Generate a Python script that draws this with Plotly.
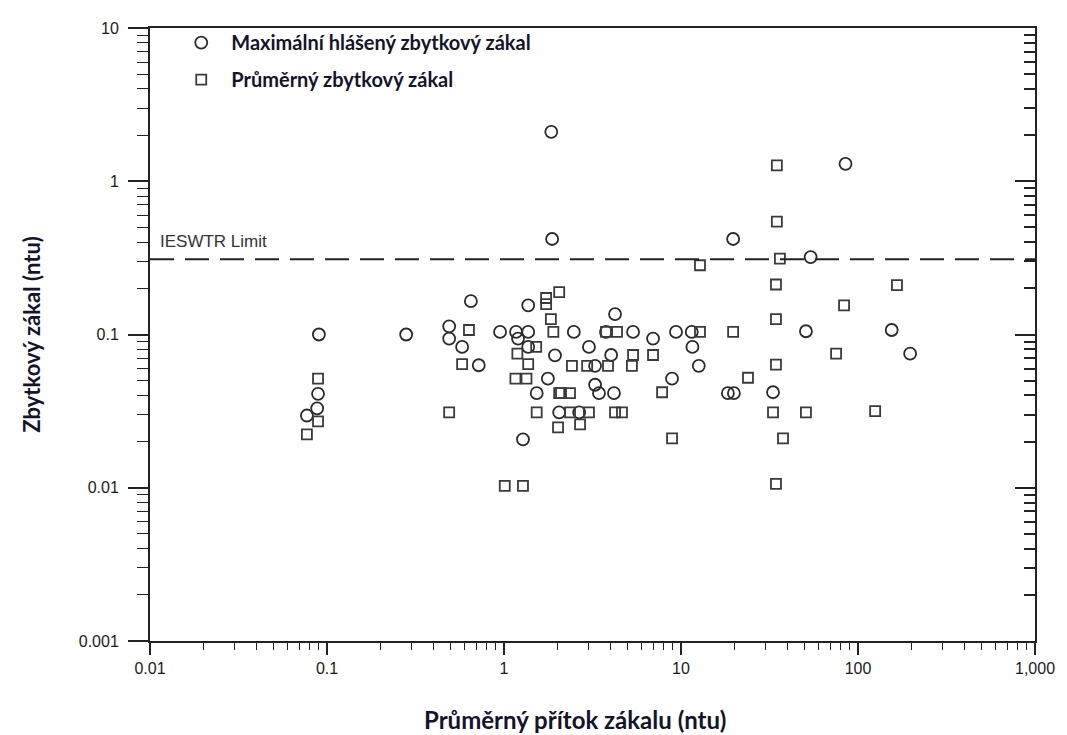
import math
import plotly.graph_objects as go

# Maximum reported residual turbidity (circles)
max_x = [1.85, 1.87, 85, 19.7, 54, 0.09, 0.28, 0.65, 0.49, 0.49, 0.58, 0.72, 0.089, 0.088,
         0.077, 0.95, 1.17, 1.37, 1.2, 1.37, 1.37, 1.94, 1.77, 1.53, 2.05, 1.28, 4.24, 2.48,
         3.77, 5.36, 6.95, 9.37, 11.5, 11.6, 12.6, 3.02, 4.03, 3.27, 8.9, 3.27, 3.44, 4.18,
         18.4, 19.9, 2.66, 33.1, 50.8, 155, 197]
max_y = [2.1, 0.42, 1.3, 0.42, 0.32, 0.1, 0.1, 0.165, 0.113, 0.094, 0.083, 0.063, 0.041, 0.033,
         0.0296, 0.104, 0.104, 0.104, 0.094, 0.083, 0.155, 0.073, 0.0515, 0.0414, 0.031, 0.0207,
         0.136, 0.104, 0.104, 0.104, 0.094, 0.104, 0.104, 0.083, 0.0625, 0.083, 0.0735, 0.0625,
         0.0515, 0.047, 0.0414, 0.0414, 0.0414, 0.0414, 0.031, 0.042, 0.105, 0.107, 0.075]

# Average residual turbidity (squares)
avg_x = [0.634, 0.58, 0.49, 0.089, 0.089, 0.077, 1.01, 1.28, 1.73, 1.73, 2.05, 1.84, 1.9, 1.52,
         1.19, 1.37, 1.16, 1.34, 1.53, 2.05, 2.02, 2.69, 3.77, 4.35, 2.42, 2.95, 3.87, 5.28, 5.36,
         6.95, 12.8, 19.7, 2.1, 2.36, 7.82, 2.36, 3.02, 4.24, 4.64, 8.9, 23.9, 34.4, 34.4, 34.4,
         33.1, 37.7, 34.4, 34.8, 34.8, 36.2, 12.8, 166, 83.4, 75.2, 50.8, 125]
avg_y = [0.107, 0.064, 0.031, 0.0515, 0.0271, 0.0223, 0.0103, 0.0103, 0.158, 0.173, 0.189, 0.126,
         0.104, 0.083, 0.075, 0.064, 0.0515, 0.0515, 0.031, 0.0414, 0.0248, 0.0259, 0.104, 0.104,
         0.0625, 0.0625, 0.0625, 0.0625, 0.0735, 0.0735, 0.104, 0.104, 0.0414, 0.0414, 0.042, 0.031,
         0.031, 0.031, 0.031, 0.021, 0.0522, 0.212, 0.126, 0.0635, 0.031, 0.021, 0.0106, 1.27,
         0.545, 0.313, 0.283, 0.21, 0.155, 0.075, 0.031, 0.0316]

limit_value = 0.31
limit_label = "IESWTR Limit"

x_tickvals = [0.01, 0.1, 1, 10, 100, 1000]
x_ticktext = ["0.01", "0.1", "1", "10", "100", "1,000"]
y_tickvals = [0.001, 0.01, 0.1, 1, 10]
y_ticktext = ["0.001", "0.01", "0.1", "1", "10"]

series_names = ["Maximální hlášený zbytkový zákal", "Průměrný zbytkový zákal"]
x_title = "Průměrný přítok zákalu (ntu)"
y_title = "Zbytkový zákal (ntu)"

minor_x = [m * 10 ** e for e in range(-2, 3) for m in range(2, 10)]
minor_y = [m * 10 ** e for e in range(-3, 1) for m in range(2, 10)]

ink = "#2a2a2a"
title_color = "#14142a"
title_font = "Lato"
tick_font = dict(family="Liberation Sans", size=16, color="#1a1a1a")

fig = go.Figure()
fig.add_trace(go.Scatter(
    x=max_x, y=max_y, mode="markers", name=series_names[0], legendgroup="a",
    marker=dict(symbol="circle-open", size=12, color=ink, line=dict(width=1.8, color=ink)),
))
fig.add_trace(go.Scatter(
    x=avg_x, y=avg_y, mode="markers", name=series_names[1], legendgroup="b",
    marker=dict(symbol="square-open", size=10, color="#3a3a3a", line=dict(width=1.8, color="#3a3a3a")),
))
# IESWTR limit line
fig.add_trace(go.Scatter(
    x=[0.01, 1000], y=[limit_value, limit_value], mode="lines", showlegend=False,
    line=dict(color="#222222", width=2, dash="24px,11px"), hoverinfo="skip",
))
# invisible trace to host the mirrored right axis
fig.add_trace(go.Scatter(x=[1], y=[1], yaxis="y2", mode="markers", showlegend=False,
                         marker=dict(opacity=0), hoverinfo="skip"))

fig.add_annotation(x=-2, y=math.log10(limit_value), xref="x", yref="y", text=limit_label,
                   showarrow=False, xanchor="left", yanchor="bottom", xshift=8, yshift=6,
                   font=dict(family="Liberation Sans", size=17, color="#333333"))
fig.add_annotation(x=0.48, y=0, xref="paper", yref="paper", text=f"<b>{x_title}</b>",
                   showarrow=False, xanchor="center", yanchor="top", yshift=-62,
                   font=dict(family=title_font, size=24, color=title_color))

fig.update_layout(
    width=1059, height=727,
    margin=dict(l=142, r=32, t=16, b=94),
    paper_bgcolor="white", plot_bgcolor="white",
    showlegend=True,
    legend=dict(x=0.024, y=1.008, xanchor="left", yanchor="top", bgcolor="rgba(0,0,0,0)",
                font=dict(family=title_font, size=20, color=title_color, weight="bold"),
                traceorder="grouped", tracegroupgap=8, itemsizing="trace", itemwidth=50),
    xaxis=dict(type="log", range=[-2, 3], tickvals=x_tickvals, ticktext=x_ticktext,
               ticks="outside", ticklen=12, tickwidth=1.5, tickcolor="#222",
               showline=True, linecolor="#222", linewidth=2, mirror=True,
               showgrid=False, zeroline=False, tickfont=tick_font,
               minor=dict(tickvals=minor_x, ticks="outside", ticklen=7, tickcolor="#222", tickwidth=1.2)),
    yaxis=dict(type="log", range=[-3, 1], tickvals=y_tickvals, ticktext=y_ticktext,
               ticks="outside", ticklen=20, tickwidth=1.5, tickcolor="#222",
               ticklabelstandoff=6,
               showline=True, linecolor="#222", linewidth=2, mirror=True,
               showgrid=False, zeroline=False, tickfont=tick_font,
               minor=dict(tickvals=minor_y, ticks="outside", ticklen=11, tickcolor="#222", tickwidth=1.2),
               title=dict(text=y_title, standoff=32,
                          font=dict(family=title_font, size=22, color=title_color, weight="bold"))),
    yaxis2=dict(type="log", range=[-3, 1], overlaying="y", side="right", anchor="x",
                tickvals=y_tickvals, showticklabels=False, ticks="inside", ticklen=20,
                tickwidth=2, tickcolor="#222", showgrid=False, zeroline=False, showline=False,
                minor=dict(tickvals=minor_y, ticks="inside", ticklen=11, tickcolor="#222", tickwidth=1.5)),
)

fig.write_html("out.html")
